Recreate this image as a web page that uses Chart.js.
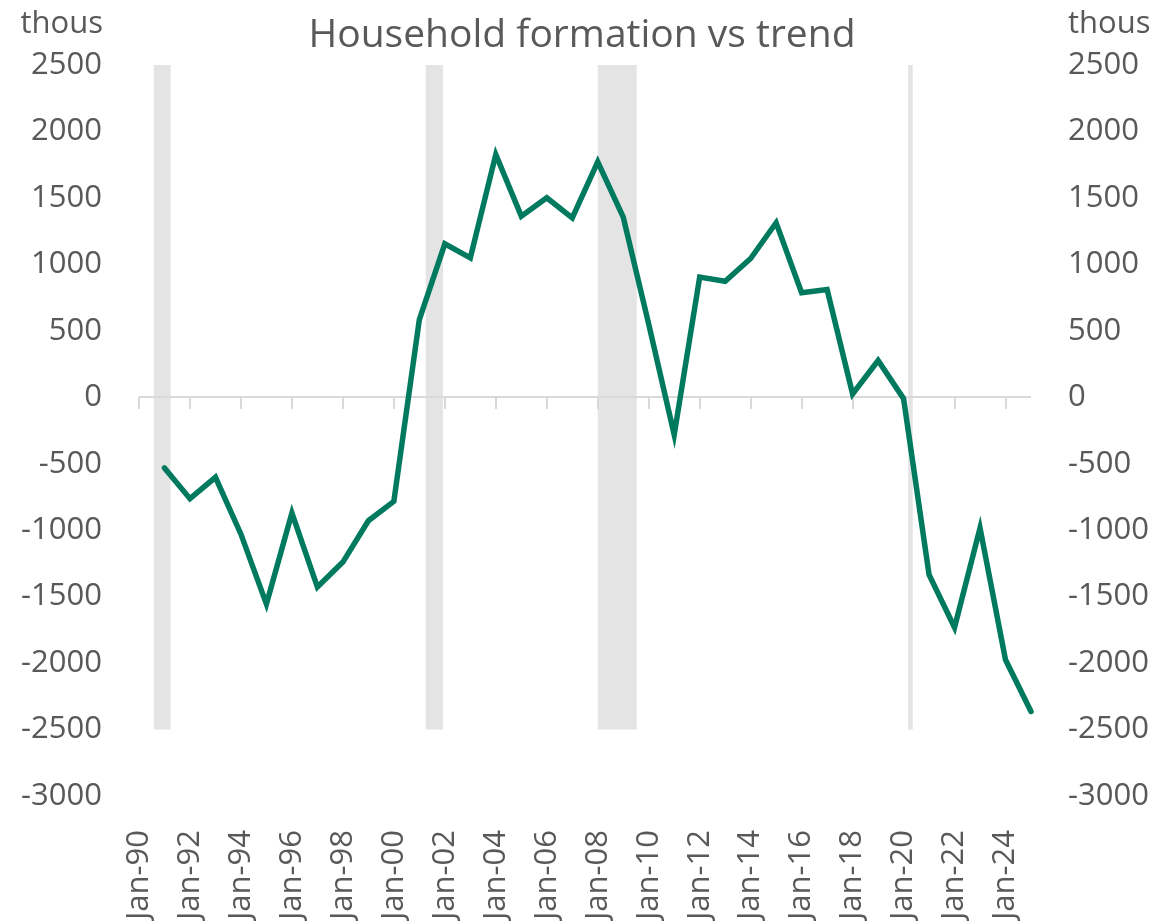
<!DOCTYPE html>
<html>
<head>
<meta charset="utf-8">
<script src="https://cdn.jsdelivr.net/npm/chart.js@4.4.1/dist/chart.umd.min.js"></script>
<style>
  html, body { margin: 0; padding: 0; background: #ffffff; }
  #wrap { width: 1157px; height: 921px; position: relative; }
</style>
</head>
<body>
<div id="wrap"><canvas id="c" width="1157" height="921"></canvas></div>
<script>
// ---- Data ----
const titleText = 'Household formation vs trend';
const unitLabel = 'thous';
const years = [1991,1992,1993,1994,1995,1996,1997,1998,1999,2000,
               2001,2002,2003,2004,2005,2006,2007,2008,2009,2010,
               2011,2012,2013,2014,2015,2016,2017,2018,2019,2020,
               2021,2022,2023,2024,2025];
const formation = [-532,-763,-602,-1030,-1556,-871,-1428,-1240,-929,-783,
                   585,1155,1049,1827,1363,1501,1350,1772,1355,550,
                   -281,904,873,1044,1313,786,811,25,276,-10,
                   -1335,-1732,-984,-1975,-2364];
const tickYears = [1990,1992,1994,1996,1998,2000,2002,2004,2006,2008,
                   2010,2012,2014,2016,2018,2020,2022,2024];
const tickLabels = ['Jan-90','Jan-92','Jan-94','Jan-96','Jan-98','Jan-00',
                    'Jan-02','Jan-04','Jan-06','Jan-08','Jan-10','Jan-12',
                    'Jan-14','Jan-16','Jan-18','Jan-20','Jan-22','Jan-24'];
const recessionStart = [1990.58, 2001.25, 2008.0, 2020.18];
const recessionEnd   = [1991.24, 2001.93, 2009.53, 2020.36];
const shadeTop = 2500, shadeBottom = -2500;

// ---- Styles ----
const FONT = "'Open Sans', 'Noto Sans', sans-serif";
const TXT = '#595959';

const decorPlugin = {
  id: 'decor',
  beforeDatasetsDraw(chart) {
    const ctx = chart.ctx, x = chart.scales.x, y = chart.scales.y;
    ctx.save();
    ctx.fillStyle = '#E4E4E4';
    for (let i = 0; i < recessionStart.length; i++) {
      const x0 = x.getPixelForValue(recessionStart[i]);
      const x1 = x.getPixelForValue(recessionEnd[i]);
      const y0 = y.getPixelForValue(shadeTop);
      const y1 = y.getPixelForValue(shadeBottom);
      ctx.fillRect(x0, y0, x1 - x0, y1 - y0);
    }
    // zero axis line with tick marks
    const zy = Math.round(y.getPixelForValue(0));
    ctx.strokeStyle = '#D9D9D9';
    ctx.lineWidth = 2;
    ctx.beginPath();
    ctx.moveTo(x.left, zy);
    ctx.lineTo(x.right, zy);
    tickYears.forEach(v => {
      const px = Math.round(x.getPixelForValue(v));
      ctx.moveTo(px, zy);
      ctx.lineTo(px, zy + 12);
    });
    ctx.stroke();
    ctx.restore();
  },
  afterDraw(chart) {
    const ctx = chart.ctx;
    ctx.save();
    ctx.fillStyle = TXT;
    ctx.textBaseline = 'alphabetic';
    ctx.font = '39px ' + FONT;
    ctx.textAlign = 'center';
    ctx.fillText(titleText, 582, 47);
    ctx.font = '31px ' + FONT;
    ctx.textAlign = 'right';
    ctx.fillText(unitLabel, 103, 33);
    ctx.textAlign = 'left';
    ctx.fillText(unitLabel, 1068, 33);
    ctx.restore();
  }
};

const yCommon = {
  min: -3000, max: 2500,
  grid: { display: false, drawTicks: false },
  border: { display: false },
  ticks: {
    stepSize: 500, color: TXT, font: { family: FONT, size: 31 }, padding: 37,
    callback(value) { return String(value); }
  }
};

new Chart(document.getElementById('c'), {
  type: 'line',
  data: {
    datasets: [{
      data: years.map((yr, i) => ({ x: yr, y: formation[i] })),
      borderColor: '#007A5E',
      borderWidth: 5.5,
      pointRadius: 0,
      tension: 0,
      clip: false,
      borderCapStyle: 'round',
      borderJoinStyle: 'miter',
      yAxisID: 'y'
    }]
  },
  plugins: [decorPlugin],
  options: {
    responsive: false,
    animation: false,
    devicePixelRatio: 1,
    layout: { padding: { top: 65, left: 0, right: 0, bottom: 0 } },
    plugins: { legend: { display: false }, tooltip: { enabled: false }, title: { display: false } },
    scales: {
      x: {
        type: 'linear', min: 1990, max: 2025, position: 'bottom',
        grid: { display: false },
        border: { display: false },
        afterBuildTicks(scale) { scale.ticks = tickYears.map(v => ({ value: v })); },
        afterFit(scale) { scale.height = 125; },
        ticks: {
          autoSkip: false, maxRotation: 90, minRotation: 90,
          color: TXT, font: { family: FONT, size: 31 }, padding: 26,
          callback(value) { const i = tickYears.indexOf(value); return i >= 0 ? tickLabels[i] : ''; }
        }
      },
      y: Object.assign({}, yCommon, {
        position: 'left',
        afterFit(scale) { scale.width = 139; }
      }),
      y2: Object.assign({}, yCommon, {
        position: 'right',
        afterFit(scale) { scale.width = 126; }
      })
    }
  }
});
</script>
</body>
</html>
